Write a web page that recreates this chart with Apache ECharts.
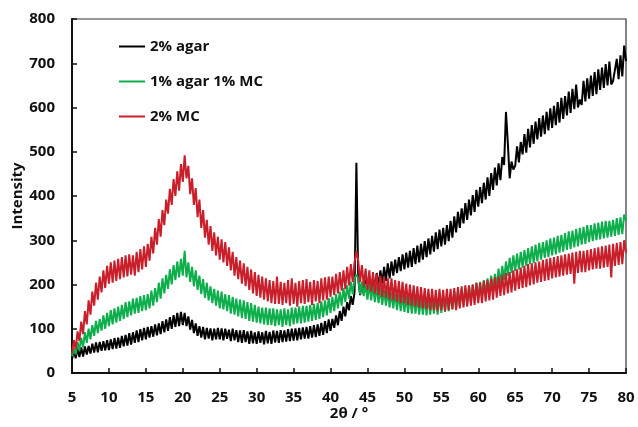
<!DOCTYPE html>
<html>
<head>
<meta charset="utf-8">
<script src="https://cdn.jsdelivr.net/npm/echarts@6/dist/echarts.min.js"></script>
<style>
  html, body { margin: 0; padding: 0; background: #fff; }
  #chart { width: 638px; height: 427px; }
</style>
</head>
<body>
<div id="chart"></div>
<script>
// 2θ sampling of the patterns (degrees)
var thetaStart = 5;
var thetaStep = 0.25;

// intensity, one row per 5 degrees
var agar2 = [
    30, 52, 33, 55, 36, 58, 37, 60, 42, 61, 44, 66, 46, 69, 47, 70, 50, 72, 51, 74,
    52, 76, 54, 79, 55, 80, 57, 84, 60, 86, 62, 90, 64, 92, 68, 96, 70, 99, 74, 102,
    76, 104, 80, 106, 82, 110, 85, 112, 88, 117, 92, 121, 95, 126, 100, 131, 104, 136, 106, 138,
    108, 136, 106, 128, 98, 120, 90, 112, 84, 106, 80, 104, 76, 102, 78, 101, 74, 100, 76, 102,
    76, 101, 74, 100, 77, 98, 72, 100, 74, 97, 70, 96, 68, 97, 70, 94, 66, 95, 67, 92,
    66, 94, 68, 92, 65, 95, 67, 93, 66, 96, 69, 95, 68, 97, 70, 96, 71, 99, 72, 100,
    73, 101, 74, 102, 76, 103, 78, 104, 78, 106, 80, 108, 81, 110, 84, 113, 86, 117, 90, 121,
    95, 122, 102, 130, 108, 140, 118, 150, 128, 160, 142, 174, 154, 182, 475, 212, 176, 206, 178, 210,
    180, 212, 184, 218, 188, 226, 196, 232, 202, 240, 208, 248, 214, 252, 220, 256, 226, 262, 230, 268,
    234, 272, 238, 276, 240, 282, 246, 288, 250, 292, 256, 298, 262, 304, 268, 310, 274, 318, 280, 324,
    286, 328, 290, 334, 298, 344, 306, 354, 318, 364, 328, 372, 338, 384, 346, 392, 356, 402, 364, 414,
    376, 420, 384, 430, 392, 442, 400, 452, 414, 464, 424, 474, 436, 488, 470, 590, 520, 440, 478, 460,
    468, 512, 476, 522, 494, 540, 498, 552, 510, 560, 518, 568, 528, 576, 534, 582, 540, 590, 548, 598,
    554, 604, 560, 612, 566, 622, 574, 626, 582, 636, 588, 642, 596, 652, 600, 618, 606, 660, 614, 666,
    620, 672, 626, 680, 630, 686, 640, 690, 644, 698, 650, 704, 652, 660, 660, 710, 664, 718, 670, 740,
    705
];
var agar1mc1 = [
    38, 56, 42, 70, 50, 80, 58, 92, 68, 100, 76, 108, 84, 118, 90, 122, 96, 130, 100, 136,
    106, 142, 110, 146, 114, 150, 118, 154, 122, 160, 126, 162, 130, 168, 134, 170, 136, 174, 140, 176,
    142, 178, 146, 186, 152, 192, 160, 204, 168, 214, 180, 222, 190, 234, 200, 244, 210, 252, 216, 258,
    220, 276, 216, 250, 206, 240, 196, 232, 188, 220, 178, 212, 170, 204, 164, 196, 158, 190, 152, 186,
    146, 184, 144, 178, 140, 176, 134, 172, 132, 168, 128, 166, 124, 164, 122, 160, 118, 158, 116, 154,
    114, 150, 112, 148, 110, 148, 108, 146, 108, 146, 106, 144, 108, 144, 104, 146, 108, 144, 106, 148,
    110, 148, 112, 150, 112, 152, 114, 152, 116, 154, 118, 156, 120, 158, 122, 162, 126, 164, 130, 170,
    136, 172, 140, 178, 146, 184, 152, 192, 160, 198, 168, 206, 178, 214, 222, 214, 178, 206, 174, 202,
    166, 202, 164, 198, 160, 196, 158, 192, 154, 188, 152, 186, 148, 182, 146, 180, 142, 178, 140, 176,
    138, 174, 136, 174, 134, 172, 134, 172, 132, 170, 132, 170, 130, 172, 132, 170, 134, 172, 132, 174,
    136, 174, 138, 176, 140, 180, 144, 184, 146, 186, 150, 190, 152, 192, 156, 196, 160, 200, 164, 204,
    168, 206, 172, 210, 176, 214, 180, 220, 184, 224, 194, 236, 200, 242, 210, 252, 220, 260, 226, 266,
    230, 270, 234, 274, 238, 278, 242, 282, 246, 286, 248, 290, 252, 294, 256, 296, 260, 300, 262, 304,
    266, 306, 268, 310, 272, 312, 274, 316, 278, 320, 280, 322, 284, 326, 286, 328, 290, 330, 292, 334,
    296, 334, 298, 338, 300, 340, 302, 342, 304, 344, 306, 344, 308, 346, 310, 350, 312, 352, 314, 358,
    345
];
var mc2 = [
    44, 74, 54, 94, 72, 116, 88, 140, 110, 164, 132, 184, 152, 204, 166, 218, 182, 232, 192, 242,
    202, 250, 204, 254, 208, 258, 212, 262, 216, 266, 218, 268, 222, 266, 220, 274, 228, 280, 234, 286,
    240, 292, 254, 308, 270, 328, 290, 348, 308, 368, 334, 392, 360, 416, 380, 438, 400, 456, 412, 472,
    432, 492, 440, 468, 404, 440, 380, 418, 352, 392, 328, 368, 306, 346, 290, 332, 276, 318, 266, 308,
    256, 302, 250, 296, 242, 284, 232, 274, 220, 262, 212, 254, 202, 248, 196, 240, 188, 234, 180, 228,
    174, 222, 170, 218, 166, 214, 162, 210, 158, 208, 156, 218, 156, 206, 154, 204, 158, 210, 152, 214,
    156, 204, 150, 208, 158, 210, 156, 212, 160, 206, 154, 210, 162, 208, 158, 214, 164, 216, 166, 218,
    172, 218, 176, 224, 180, 228, 186, 232, 190, 240, 198, 246, 206, 250, 276, 254, 206, 244, 196, 236,
    188, 232, 184, 228, 180, 224, 176, 220, 172, 218, 170, 214, 166, 214, 164, 210, 162, 208, 158, 206,
    158, 202, 154, 200, 152, 198, 150, 196, 148, 194, 146, 192, 144, 190, 142, 190, 142, 188, 140, 190,
    142, 188, 140, 190, 142, 190, 144, 192, 142, 194, 146, 196, 148, 198, 150, 198, 152, 200, 154, 204,
    158, 204, 158, 208, 162, 210, 164, 214, 166, 216, 170, 218, 174, 222, 176, 226, 180, 228, 182, 232,
    186, 234, 190, 238, 192, 242, 194, 246, 198, 248, 200, 250, 204, 252, 206, 256, 208, 258, 210, 260,
    214, 262, 216, 264, 218, 266, 220, 268, 222, 270, 224, 272, 202, 274, 226, 276, 228, 276, 228, 278,
    232, 280, 234, 282, 236, 284, 236, 286, 238, 288, 240, 290, 216, 292, 242, 294, 244, 296, 246, 300,
    272
];

var seriesNames = ['2% agar', '1% agar 1% MC', '2% MC'];
var seriesColors = ['#000000', '#0DAE4B', '#C91F2B'];

function pairs(arr) {
    return arr.map(function (v, i) { return [thetaStart + i * thetaStep, v]; });
}

var chart = echarts.init(document.getElementById('chart'));
var font = '"Open Sans", "DejaVu Sans", sans-serif';

chart.setOption({
    animation: false,
    grid: {
        left: 72, right: 12, top: 19, bottom: 54,
        outerBoundsMode: 'none',
        show: true, borderColor: '#333', borderWidth: 1.2
    },
    legend: {
        orient: 'vertical',
        left: 114, top: 34,
        itemWidth: 26, itemHeight: 2, itemGap: 20,
        icon: 'rect',
        textStyle: { fontFamily: font, fontSize: 15, fontWeight: 'bold', color: '#111' },
        data: seriesNames
    },
    xAxis: {
        type: 'value', min: 5, max: 80, interval: 5,
        name: '2θ / °', nameLocation: 'middle', nameGap: 33, nameMoveOverlap: false,
        nameTextStyle: { fontFamily: font, fontSize: 15, fontWeight: 'bold', color: '#111' },
        axisLine: { lineStyle: { color: '#111', width: 2 } },
        axisTick: { inside: true, length: 5, lineStyle: { color: '#111', width: 1.5 } },
        axisLabel: { margin: 17, fontFamily: font, fontSize: 15, fontWeight: 'bold', color: '#111' },
        splitLine: { show: false }
    },
    yAxis: {
        type: 'value', min: 0, max: 800, interval: 100,
        name: 'Intensity', nameLocation: 'middle', nameGap: 47, nameMoveOverlap: false,
        nameTextStyle: { fontFamily: font, fontSize: 15, fontWeight: 'bold', color: '#111' },
        axisLine: { show: true, lineStyle: { color: '#111', width: 2 } },
        axisTick: { show: true, inside: true, length: 5, lineStyle: { color: '#111', width: 1.5 } },
        axisLabel: { margin: 17, fontFamily: font, fontSize: 15, fontWeight: 'bold', color: '#111' },
        splitLine: { show: false }
    },
    series: [agar2, agar1mc1, mc2].map(function (arr, k) {
        return {
            name: seriesNames[k],
            type: 'line',
            data: pairs(arr),
            showSymbol: false,
            color: seriesColors[k],
            lineStyle: { color: seriesColors[k], width: 2 }
        };
    })
});
</script>
</body>
</html>
